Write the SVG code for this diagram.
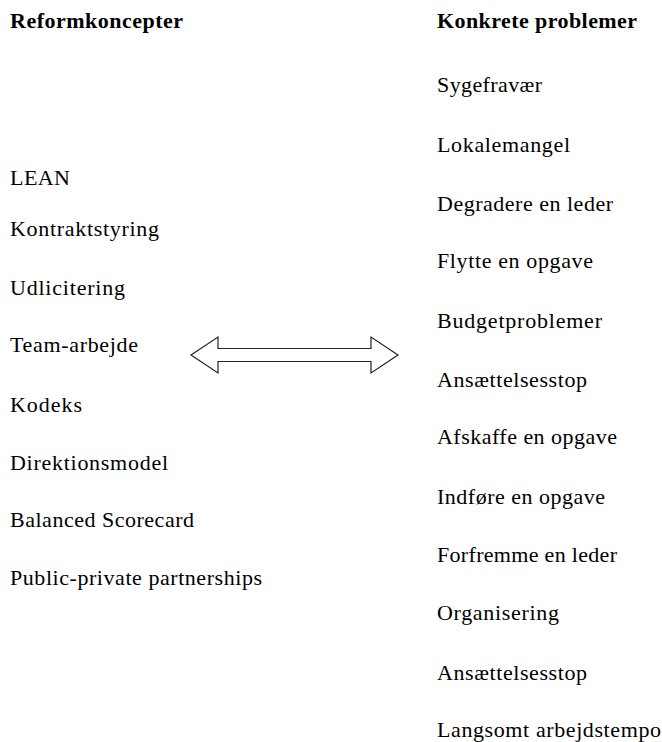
<svg xmlns="http://www.w3.org/2000/svg" width="662" height="742" viewBox="0 0 662 742">
<style>
text{font-family:'Liberation Serif','Times New Roman',Times,serif;font-size:22px;fill:#000}
.h{font-weight:bold}
.arrow{fill:#fff;stroke:#222;stroke-width:1.2}
</style>
<rect width="662" height="742" fill="#fff"/>
<g id="left-column" font-family="Liberation Serif, serif">
<g id="hdr-left"><text class="h" x="10" y="28" textLength="173" lengthAdjust="spacing">Reformkoncepter</text></g>
<g id="n-lean"><text x="10" y="185" textLength="60" lengthAdjust="spacing">LEAN</text></g>
<g id="n-kontrakt"><text x="10" y="236" textLength="149" lengthAdjust="spacing">Kontraktstyring</text></g>
<g id="n-udlicitering"><text x="10" y="295" textLength="115" lengthAdjust="spacing">Udlicitering</text></g>
<g id="n-team"><text x="10" y="352" textLength="128" lengthAdjust="spacing">Team-arbejde</text></g>
<g id="n-kodeks"><text x="10" y="412" textLength="72" lengthAdjust="spacing">Kodeks</text></g>
<g id="n-direktion"><text x="10" y="470" textLength="158" lengthAdjust="spacing">Direktionsmodel</text></g>
<g id="n-bsc"><text x="10" y="527" textLength="184" lengthAdjust="spacing">Balanced Scorecard</text></g>
<g id="n-ppp"><text x="10" y="585" textLength="252" lengthAdjust="spacing">Public-private partnerships</text></g>
</g>
<g id="right-column" font-family="Liberation Serif, serif">
<g id="hdr-right"><text class="h" x="437" y="28" textLength="200" lengthAdjust="spacing">Konkrete problemer</text></g>
<g id="p-syge"><text x="437" y="92" textLength="105" lengthAdjust="spacing">Sygefravær</text></g>
<g id="p-lokale"><text x="437" y="152" textLength="133" lengthAdjust="spacing">Lokalemangel</text></g>
<g id="p-degradere"><text x="437" y="211" textLength="176" lengthAdjust="spacing">Degradere en leder</text></g>
<g id="p-flytte"><text x="437" y="268" textLength="156" lengthAdjust="spacing">Flytte en opgave</text></g>
<g id="p-budget"><text x="437" y="328" textLength="165" lengthAdjust="spacing">Budgetproblemer</text></g>
<g id="p-ansaet1"><text x="437" y="387" textLength="150" lengthAdjust="spacing">Ansættelsesstop</text></g>
<g id="p-afskaffe"><text x="437" y="444" textLength="180" lengthAdjust="spacing">Afskaffe en opgave</text></g>
<g id="p-indfore"><text x="437" y="504" textLength="168" lengthAdjust="spacing">Indføre en opgave</text></g>
<g id="p-forfremme"><text x="437" y="562" textLength="180" lengthAdjust="spacing">Forfremme en leder</text></g>
<g id="p-organisering"><text x="437" y="620" textLength="122" lengthAdjust="spacing">Organisering</text></g>
<g id="p-ansaet2"><text x="437" y="680" textLength="150" lengthAdjust="spacing">Ansættelsesstop</text></g>
<g id="p-langsomt"><text x="437" y="737" textLength="224" lengthAdjust="spacing">Langsomt arbejdstempo</text></g>
</g>
<g id="connectors">
<polygon class="arrow" points="191,355 218,337 218,348.5 371,348.5 371,337 398,355 371,373 371,361.5 218,361.5 218,373"/>
</g>
</svg>
